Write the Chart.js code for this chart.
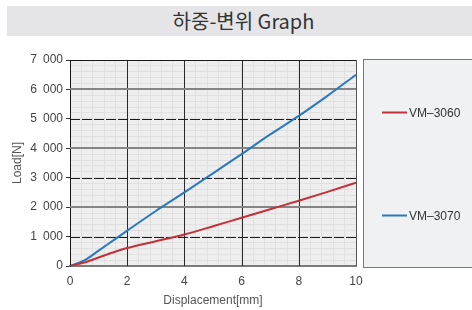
<!DOCTYPE html>
<html>
<head>
<meta charset="utf-8">
<script src="https://cdn.jsdelivr.net/npm/chart.js@4/dist/chart.umd.min.js"></script>
<style>
    html, body { margin: 0; padding: 0; background: #fff; }
    body { width: 472px; height: 310px; position: relative; overflow: hidden; }
    #title {
        position: absolute; left: 7px; top: 6px; width: 465px; height: 30px;
        background: #e5e5e7; color: #333;
        font: 20px "Noto Sans CJK KR", sans-serif; line-height: 30px; text-align: center;
        text-indent: 8px;
    }
    #wrap { position: absolute; left: 0; top: 0; width: 472px; height: 310px; }
</style>
</head>
<body>
<div id="title">하중-변위 Graph</div>
<div id="wrap"><canvas id="load-chart"></canvas></div>
<script>
// Load vs displacement readings
const displacement = [0, 0.5, 1, 1.5, 2, 3, 4, 5, 6, 7, 8, 9, 10];
const vm3060 = [0, 120, 290, 460, 610, 840, 1070, 1350, 1640, 1930, 2220, 2520, 2830];
const vm3070 = [0, 190, 520, 860, 1200, 1870, 2500, 3150, 3800, 4470, 5100, 5780, 6500];

// Labelled ticks
const xMajor = [0, 2, 4, 6, 8, 10];
const yMajor = [0, 1000, 2000, 3000, 4000, 5000, 6000, 7000];

const isMajor = (list, v) => list.some(m => Math.abs(m - v) < 1e-6);

const toPoints = (ys) => displacement.map((x, i) => ({ x: x, y: ys[i] }));

// Plot background, heavy grid lines and frame
const gridPlugin = {
    id: 'gridLines',
    beforeDraw(chart) {
        const { ctx, chartArea: a } = chart;
        ctx.save();
        ctx.fillStyle = '#eeeeee';
        ctx.fillRect(a.left, a.top, a.right - a.left, a.bottom - a.top);
        ctx.restore();
    },
    beforeDatasetsDraw(chart) {
        const { ctx, chartArea: a, scales } = chart;
        ctx.save();
        // vertical lines at labelled x values
        xMajor.forEach(v => {
            if (v === 0 || v === 10) return;
            const x = Math.round(scales.x.getPixelForValue(v)) + 0.5;
            ctx.strokeStyle = '#2a2a2a';
            ctx.lineWidth = 1;
            ctx.setLineDash([]);
            ctx.beginPath(); ctx.moveTo(x, a.top); ctx.lineTo(x, a.bottom); ctx.stroke();
        });
        // horizontal lines: solid gray on even thousands, dashed black on odd ones
        yMajor.forEach(v => {
            if (v === 0 || v === 7000) return;
            const y = Math.round(scales.y.getPixelForValue(v));
            ctx.beginPath();
            if ((v / 1000) % 2 === 0) {
                ctx.strokeStyle = '#858585';
                ctx.lineWidth = 2;
                ctx.setLineDash([]);
                ctx.moveTo(a.left, y); ctx.lineTo(a.right, y);
            } else {
                ctx.strokeStyle = '#1a1a1a';
                ctx.lineWidth = 1;
                ctx.setLineDash([10, 2]);
                ctx.moveTo(a.left, y + 0.5); ctx.lineTo(a.right, y + 0.5);
            }
            ctx.stroke();
        });
        ctx.setLineDash([]);
        // top and right edges
        ctx.strokeStyle = '#1a1a1a';
        ctx.lineWidth = 1;
        ctx.beginPath();
        ctx.moveTo(a.left, Math.round(a.top) + 0.5); ctx.lineTo(a.right, Math.round(a.top) + 0.5);
        ctx.stroke();
        ctx.strokeStyle = '#555';
        ctx.beginPath();
        ctx.moveTo(Math.round(a.right) + 0.5, a.top); ctx.lineTo(Math.round(a.right) + 0.5, a.bottom);
        ctx.stroke();
        ctx.restore();
    }
};

// Boxed legend on the right side
const legendBoxPlugin = {
    id: 'legendBox',
    afterDraw(chart) {
        const { ctx } = chart;
        const box = { left: 363.5, top: 59.5, right: 480, bottom: 267.5 };
        ctx.save();
        ctx.fillStyle = '#f0f1f3';
        ctx.fillRect(box.left, box.top, box.right - box.left, box.bottom - box.top);
        ctx.strokeStyle = '#777';
        ctx.lineWidth = 1;
        ctx.strokeRect(box.left, box.top, box.right - box.left, box.bottom - box.top);
        const rows = [112, 215];
        chart.data.datasets.forEach((ds, i) => {
            const y = rows[i] + 0.5;
            ctx.strokeStyle = ds.borderColor;
            ctx.lineWidth = 2;
            ctx.beginPath(); ctx.moveTo(382, y); ctx.lineTo(407, y); ctx.stroke();
            ctx.fillStyle = '#333';
            ctx.font = '12px "Liberation Sans", Arial, sans-serif';
            ctx.textBaseline = 'middle';
            ctx.textAlign = 'left';
            ctx.fillText(ds.label, 409, y + 1);
        });
        ctx.restore();
    }
};

const tickFont = { family: '"Liberation Sans", Arial, sans-serif', size: 12 };

const loadChart = new Chart(document.getElementById('load-chart').getContext('2d'), {
    type: 'line',
    data: {
        datasets: [{
            label: 'VM–3060',
            data: toPoints(vm3060),
            borderColor: '#c2303a',
            borderWidth: 2,
            pointRadius: 0,
            cubicInterpolationMode: 'monotone'
        }, {
            label: 'VM–3070',
            data: toPoints(vm3070),
            borderColor: '#2a78c0',
            borderWidth: 2,
            pointRadius: 0,
            cubicInterpolationMode: 'monotone'
        }]
    },
    options: {
        responsive: true,
        maintainAspectRatio: false,
        animation: false,
        layout: { padding: { left: 0, right: 116, top: 60, bottom: 0 } },
        plugins: {
            legend: { display: false },
            tooltip: { enabled: false }
        },
        scales: {
            x: {
                type: 'linear',
                min: 0,
                max: 10,
                afterFit: (s) => { s.height = 44; },
                ticks: {
                    stepSize: 0.4,
                    autoSkip: false,
                    maxRotation: 0,
                    padding: 8,
                    color: '#444',
                    font: tickFont,
                    callback: (v) => isMajor(xMajor, v) ? String(Math.round(v)) : ''
                },
                grid: { color: '#e0e0e0', lineWidth: 1, drawTicks: false },
                border: { color: '#7a7a7a', width: 2 },
                title: {
                    display: true,
                    text: 'Displacement[mm]',
                    color: '#555',
                    font: tickFont,
                    padding: { top: 0, bottom: 2 }
                }
            },
            y: {
                min: 0,
                max: 7000,
                afterFit: (s) => { s.width = 70; },
                ticks: {
                    stepSize: 200,
                    autoSkip: false,
                    padding: 3,
                    color: '#444',
                    font: tickFont,
                    callback: (v) => isMajor(yMajor, v) ? v.toLocaleString('en-US').replace(',', '\u2002') : ''
                },
                grid: {
                    color: '#e0e0e0',
                    lineWidth: 1,
                    tickLength: 4,
                    tickColor: (c) => (c.tick && isMajor(yMajor, c.tick.value)) ? '#333' : 'rgba(0,0,0,0)'
                },
                border: { color: '#1a1a1a', width: 1 },
                title: {
                    display: true,
                    text: 'Load[N]',
                    color: '#555',
                    font: tickFont,
                    padding: { top: 10, bottom: 0 }
                }
            }
        }
    },
    plugins: [gridPlugin, legendBoxPlugin]
});
</script>
</body>
</html>
